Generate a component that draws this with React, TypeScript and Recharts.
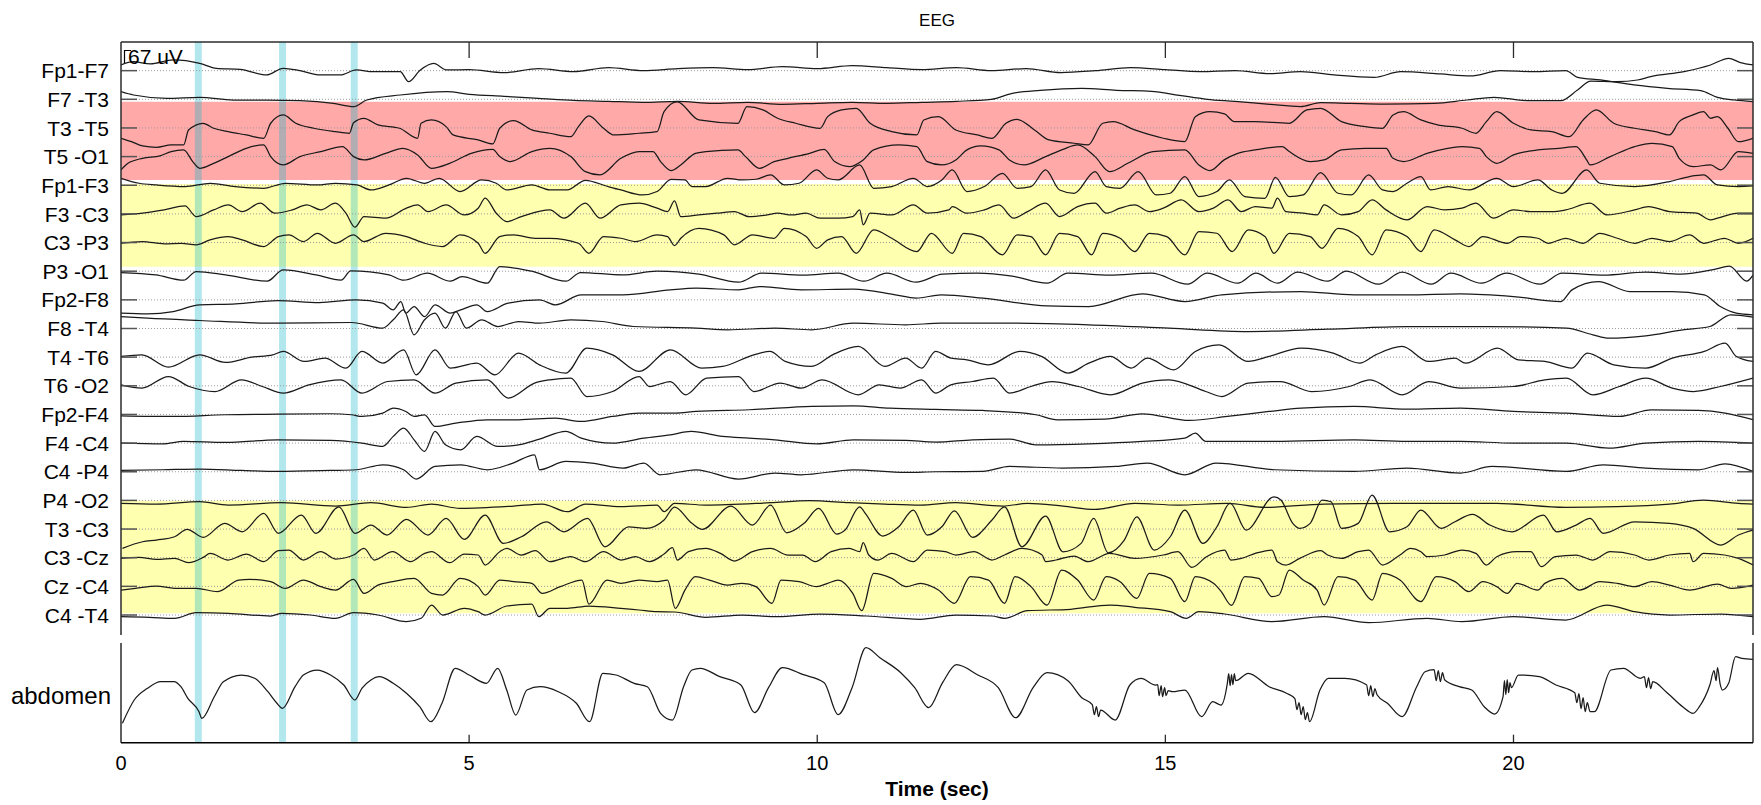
import React from 'react';
import { ComposedChart, Line, XAxis, YAxis, ReferenceArea, ReferenceLine } from 'recharts';

type Pt = [number, number];

// Bipolar montage, top to bottom
const CHANNELS = [
  'Fp1-F7', 'F7 -T3', 'T3 -T5', 'T5 -O1', 'Fp1-F3', 'F3 -C3', 'C3 -P3', 'P3 -O1',
  'Fp2-F8', 'F8 -T4', 'T4 -T6', 'T6 -O2', 'Fp2-F4', 'F4 -C4', 'C4 -P4', 'P4 -O2',
  'T3 -C3', 'C3 -Cz', 'Cz -C4', 'C4 -T4',
];

const TIME_TICKS = [0, 5, 10, 15, 20];
const MARKERS = [1.11, 2.32, 3.35]; // event markers (s)
const T_END = 23.44;
// deflection units per channel step; one step = 67 uV
const GAP = 28.65;

// [time (s), deflection (+ = up)]
const FP1_F7: Pt[] = [[0,5.7],[0.18,9],[0.42,6.7],[0.75,10.7],[1.13,7.3],[1.37,2.3],[1.71,1.3],[2.09,-4.3],[2.33,2.3],[2.57,0],[2.86,-4.3],[3.15,-4.3],[3.38,0.7],[3.62,-1],[4.01,-1],[4.13,-11],[4.3,0.7],[4.49,7.3],[4.68,0.7],[5,1],[5.5,-2],[6,2],[6.5,-1],[7,3],[7.5,0],[8,2],[8.5,3],[9,1],[9.5,4],[10,2],[10.5,5],[11,3],[11.5,1],[12,3],[12.5,0],[13,2],[13.5,-2],[14,0],[14.5,3],[15,1],[15.5,-1],[16,0],[16.5,-3],[16.94,-1],[17.42,-4.3],[18,-6.7],[18.38,-1],[18.95,-3.3],[19.38,-5.3],[19.81,0],[20.29,-1],[20.75,0],[20.92,-6.7],[21.25,-9.3],[21.73,-14.3],[22.21,-17.7],[22.69,-20],[22.93,-26.7],[23.17,-29.3],[23.44,-31]];
const F7_T3: Pt[] = [[0,7.7],[0.18,4.3],[0.66,1],[1.13,2],[1.61,-0.7],[2.09,-0.7],[2.57,-1.3],[3.05,-4],[3.34,-7.3],[3.53,-0.7],[4.01,4.3],[4.68,7.7],[5,5],[5.5,3],[6,1],[6.5,-1],[7,-2],[7.5,-3],[8,-2],[8.5,-4],[9,-3],[9.5,-5],[10,-4],[10.5,-3],[11,-4],[11.5,-3],[12,-2],[12.5,0],[12.8,6],[13.2,9],[13.8,11],[14.3,9],[14.8,8],[15.2,4],[15.6,0],[16,-2],[16.5,-5],[16.94,-7.3],[17.23,-3.3],[17.66,-4],[18.14,-4.7],[18.86,-4],[19.33,-0.7],[19.72,2],[20.2,-1.3],[20.68,-1.3],[20.92,9.3],[21.11,18.3],[21.49,17.7],[21.78,19.3],[21.97,22.7],[22.45,27.7],[22.83,34.3],[23.09,41],[23.26,36.7],[23.44,34.3]];
const T3_T5: Pt[] = [[0,-10.3],[0.15,-13.7],[0.31,-18],[0.51,-19.3],[0.72,-17],[0.9,-17],[0.97,-2],[1.18,4.7],[1.33,-0.3],[1.54,-3.7],[1.8,-7],[2.05,-10.3],[2.15,4.7],[2.33,13],[2.51,4.7],[2.77,-0.3],[3.08,-3.7],[3.28,-5.3],[3.34,5.3],[3.49,9.7],[3.69,3],[4,-0.3],[4.26,-10.3],[4.31,4.7],[4.46,8],[4.67,1.3],[4.77,-7],[5.13,-12],[5.34,-16],[5.44,-0.3],[5.64,7.3],[5.9,-2],[6.16,-5.3],[6.46,-8.7],[6.57,1.3],[6.72,12],[6.93,-0.3],[7.08,-7],[7.44,-5.3],[7.7,-3.7],[7.8,16.3],[7.99,26],[8.3,8],[8.86,4.7],[8.99,21.3],[9.22,18],[9.43,9.7],[9.69,4.7],[10.04,-0.3],[10.15,11.3],[10.35,18],[10.56,19.7],[10.76,4.7],[11.07,-3.7],[11.43,-7],[11.53,8],[11.74,11.3],[11.99,-2],[12.3,-7],[12.51,-10.3],[12.71,4.7],[12.87,8.7],[13.12,-2],[13.33,-12],[13.69,-15.3],[13.89,-17],[14.1,4.7],[14.25,6.3],[14.56,-2],[14.97,-10.3],[15.28,-13.7],[15.43,11.3],[15.64,16.3],[15.85,14],[15.99,6.3],[16.29,6.3],[16.78,4.7],[17.03,18],[17.23,19.7],[17.53,6.3],[17.87,1.3],[18.12,-0.3],[18.27,13],[18.42,16.3],[18.67,8],[18.91,3],[19.26,-0.3],[19.46,-5.3],[19.61,6.3],[19.76,16.3],[20,4.7],[20.25,-2],[20.55,-3.7],[20.8,-8.7],[21,8],[21.19,18],[21.44,4.7],[21.74,-0.3],[22.04,-3.7],[22.24,-7],[22.38,6.3],[22.58,13],[22.73,16.3],[22.83,9.7],[22.93,11.3],[23.08,-0.3],[23.23,-13.7],[23.44,-10.3]];
const T5_O1: Pt[] = [[0,-13.3],[0.1,-6.7],[0.31,-1.7],[0.56,0.7],[0.72,5],[0.9,6.7],[1.03,-5],[1.13,-11.7],[1.33,-6.7],[1.54,0],[1.8,8.3],[2.05,11.7],[2.15,0],[2.33,-8.3],[2.57,0],[2.87,5],[3.18,10],[3.34,0],[3.49,-3.3],[3.8,3.3],[4.05,8.3],[4.26,1.7],[4.46,-11.7],[4.72,-6.7],[5.03,3.3],[5.34,7.3],[5.44,0],[5.59,-5],[5.9,5],[6.16,8.3],[6.46,0],[6.67,-15],[6.88,-18.3],[7.18,-1.7],[7.44,5],[7.64,5],[7.75,-5],[7.9,-14],[8.04,-8.3],[8.25,3.3],[8.4,5],[8.86,6.7],[8.97,0],[9.17,-11.7],[9.38,-5],[9.58,-1.7],[9.89,3.3],[10.1,7.3],[10.25,-5],[10.46,-10],[10.66,-3.3],[10.81,6.7],[11.17,11.7],[11.43,10],[11.58,-5],[11.79,-8.3],[11.99,-3.3],[12.15,6.7],[12.35,10.7],[12.61,6.7],[12.76,-3.3],[12.97,-8.3],[13.28,0],[13.53,7.3],[13.74,11.7],[13.99,0],[14.2,-15],[14.46,-6.7],[14.82,5],[15.28,6.7],[15.48,-8.3],[15.64,-14],[15.85,-3],[16.04,3.3],[16.29,6.7],[16.68,10],[16.78,5],[17.08,-5],[17.28,-3.3],[17.53,6.7],[17.87,8.3],[18.17,8.3],[18.27,-1.7],[18.42,-5],[18.76,3.3],[19.26,10],[19.51,8.3],[19.61,0],[19.76,-6.7],[20,1.7],[20.35,6.7],[20.65,8.3],[20.9,10],[21.05,-3.3],[21.1,-8.3],[21.39,0],[21.74,10],[21.99,13.3],[22.28,10],[22.38,-1.7],[22.58,-10],[22.83,-8.3],[22.98,-13.3],[23.23,5],[23.44,3.3]];
const FP1_F3: Pt[] = [[0,7],[0.26,2],[0.51,0.3],[0.92,-1.3],[1.28,2],[1.64,-1.3],[2.05,-3],[2.36,2],[2.82,0.3],[3.08,2],[3.39,0.3],[3.59,-4.7],[3.85,0.3],[4.1,7],[4.36,2],[4.57,7],[4.87,-6.3],[5.18,5.3],[5.39,2],[5.54,-4.7],[5.9,0.3],[6.16,-4.7],[6.41,-4.7],[6.67,5],[6.98,-1],[7.18,-4.7],[7.49,-9.7],[7.7,-6.3],[7.9,6],[8.1,5.3],[8.2,-1.3],[8.4,-1.3],[8.71,7],[8.92,5.3],[9.12,6],[9.33,10.3],[9.53,0.3],[9.74,2],[9.99,15.3],[10.15,7],[10.3,5.3],[10.61,20.3],[10.81,-3],[11.07,-1.3],[11.38,7],[11.58,-1.3],[11.79,5.3],[11.94,15.3],[12.15,-6.3],[12.4,-1.3],[12.66,12],[12.87,-3],[13.07,-1.3],[13.28,15.3],[13.48,-4.7],[13.69,-8],[13.99,13.7],[14.15,-1.3],[14.35,-3],[14.61,13.7],[14.87,-9.7],[15.07,-8],[15.28,8.7],[15.48,-11.3],[15.74,-6.3],[15.92,5.3],[16.14,-11.3],[16.43,-13],[16.58,8],[16.78,-11.3],[16.98,-9.7],[17.23,12.7],[17.48,-8],[17.67,-9.7],[17.92,10.3],[18.12,-4.7],[18.27,-6.3],[18.47,2],[18.67,8.7],[18.81,-4.7],[19.06,-1.3],[19.36,-4.7],[19.76,7],[20,-1.3],[20.35,5.3],[20.55,-4.7],[20.7,-8],[21.05,15.3],[21.24,2],[21.74,-1.3],[22.24,3.7],[22.53,8.7],[22.73,10.3],[22.93,0.3],[23.23,-1.3],[23.44,-0.7]];
const F3_C3: Pt[] = [[0,-1],[0.31,0.7],[0.62,4],[0.92,8],[1.08,-2.7],[1.33,4],[1.54,9],[1.74,2.3],[2,10.7],[2.21,0.7],[2.46,4],[2.67,9],[2.87,4],[3.08,10.7],[3.23,0.7],[3.36,-13.3],[3.49,-2.7],[3.8,-4.3],[4.1,5.7],[4.26,9],[4.41,2.3],[4.67,9],[4.93,-1],[5.13,5.7],[5.23,15.7],[5.39,0.7],[5.54,-7.7],[5.75,-2.7],[6.16,4],[6.36,-4.3],[6.67,10.7],[6.88,-4.3],[7.18,9],[7.44,10.7],[7.7,5.7],[7.85,2.3],[7.95,13],[8.04,-2.7],[8.3,-1],[8.56,0.7],[8.81,2.3],[9.02,-2.7],[9.28,-1],[9.43,0.7],[9.63,-1],[9.84,0.7],[10.04,-4.3],[10.3,-4.3],[10.51,-2.7],[10.61,4],[10.66,-11],[10.76,0.7],[11.07,-1],[11.38,9],[11.58,0.7],[11.89,4],[11.94,7.3],[12.15,0.7],[12.4,4],[12.61,9],[12.82,-4.3],[13.02,2.3],[13.28,10.7],[13.48,-2.7],[13.74,7.3],[13.99,10.7],[14.15,0.7],[14.35,5.7],[14.56,9],[14.77,2.3],[14.97,5.7],[15.23,14],[15.48,2.3],[15.69,5.7],[15.9,14],[16.09,2.3],[16.29,7.3],[16.53,5.7],[16.61,15.7],[16.73,2.3],[16.98,0.7],[17.18,-1],[17.28,9],[17.53,-1],[17.77,2.3],[17.97,14],[18.17,4],[18.47,-6],[18.76,7.3],[19.01,4],[19.26,5.7],[19.46,10.7],[19.71,-4.3],[20,4],[20.25,2.3],[20.55,2.3],[20.75,4],[21.1,10.7],[21.34,-1],[21.74,4],[21.94,7.3],[22.24,2.3],[22.63,0.7],[22.83,-6],[22.93,-4.3],[23.23,0.7],[23.44,0.7]];
const C3_P3: Pt[] = [[0,-0.7],[0.31,1],[0.62,-1.3],[0.87,-0.7],[1.08,-2.3],[1.28,2.7],[1.54,6],[1.74,2.7],[2.05,-4],[2.26,6],[2.41,7.7],[2.62,1],[2.82,9.3],[3.08,-0.7],[3.34,7.7],[3.49,1],[3.8,9.3],[4.1,6],[4.36,-0.7],[4.62,-4],[4.87,7.7],[5.13,-0.7],[5.23,-10.7],[5.44,6],[5.64,7.7],[5.95,4.3],[6.16,4.3],[6.57,-0.7],[6.72,-10.7],[6.93,6],[7.18,4.3],[7.39,1],[7.7,7.7],[7.85,6],[7.95,-3],[8.04,4.3],[8.3,14.3],[8.66,7.7],[8.81,-2.3],[9.07,7.7],[9.38,4.3],[9.53,14.3],[9.84,6],[9.99,-5.7],[10.15,2.7],[10.35,6],[10.56,-10.7],[10.81,12.7],[11.07,4.3],[11.43,-9],[11.64,9.3],[11.94,-10.7],[12.1,9.3],[12.35,6],[12.66,-12.3],[12.87,7.7],[13.07,6],[13.28,-12.3],[13.48,9.3],[13.74,6],[13.94,-12.3],[14.1,9.3],[14.35,4.3],[14.56,-9],[14.77,9.3],[15.02,6],[15.28,-12.3],[15.48,11],[15.74,9.3],[15.96,-9],[16.19,12.7],[16.43,6],[16.56,-10.7],[16.78,9.3],[17.08,6],[17.25,-5.7],[17.48,14.3],[17.77,6],[17.97,-12.3],[18.17,12.7],[18.47,6],[18.67,-9],[18.86,12.7],[19.16,2.7],[19.36,-4],[19.56,6],[19.91,-0.7],[20.1,6],[20.35,4.3],[20.5,-0.7],[20.75,4.3],[21,-0.7],[21.24,9.3],[21.49,4.3],[21.74,-0.7],[21.99,4.3],[22.24,1],[22.53,7.7],[22.73,-0.7],[23.03,4.3],[23.23,-0.7],[23.44,4.3]];
const P3_O1: Pt[] = [[0,-1.3],[0.5,-3.7],[0.9,-9],[1.08,-0.3],[1.5,-3.7],[2.1,-10],[2.33,1.3],[2.8,-3.7],[3.16,-9],[3.3,0.3],[3.85,-3.7],[4.06,-9],[4.4,-2],[4.73,-10],[4.9,-5.3],[5.26,-12],[5.44,4.7],[5.9,0],[6.39,-10],[6.6,-1.3],[7.2,-3.7],[7.7,0],[8.3,-3],[8.87,-11],[9.2,-2],[9.8,-4],[10.3,-2],[10.67,-10],[11,-2],[11.42,-11],[11.8,-3],[12.3,-2],[12.8,-5],[13.3,-12],[13.6,-2],[14.2,-4],[14.8,-2],[15.32,-13],[15.6,-2],[16.04,-12],[16.3,-2],[16.61,-12],[16.9,-1],[17.33,-10],[17.6,0],[18.06,-13],[18.4,-1],[18.82,-13],[19.1,-2],[19.54,-12],[19.9,-2],[20.38,-13],[20.7,-2],[21.3,-4],[21.9,-1],[22.4,-3],[22.9,2],[23.1,5],[23.35,-10],[23.44,-4]];
const FP2_F8: Pt[] = [[0,-13.3],[0.38,-14],[0.75,-11.7],[1.13,-5],[1.65,-4],[2.25,-0.7],[2.85,-2.7],[3.38,0],[3.76,-3.3],[3.91,-10],[4.02,-1.7],[4.09,-13.3],[4.21,-6.7],[4.36,-16.7],[4.51,-5],[4.73,-13.3],[4.88,-10],[5.11,-5],[5.26,-11.7],[5.56,-3.3],[6.01,0],[6.24,-5],[6.61,5],[7.21,5],[7.89,10],[8.26,11.7],[8.87,10],[9.17,13.3],[9.77,10],[10.52,10.7],[11.12,5],[11.42,1.7],[11.78,5],[12.38,1.7],[13.3,-6],[13.9,-6.7],[14.67,6],[15.28,-1.7],[15.81,5],[16.95,8.3],[17.71,5],[18.47,5],[19.24,6],[20,3.3],[20.68,-1.7],[20.84,10],[21.22,18.3],[21.67,8.3],[22.28,8.3],[22.74,5],[22.97,-6.7],[23.2,-13.3],[23.44,-15]];
const F8_T4: Pt[] = [[0,12],[0.38,10.3],[1.13,8],[2.25,5.3],[3.31,6],[3.76,0.3],[3.91,8.7],[4.06,18.7],[4.21,-6.3],[4.36,8.7],[4.51,15.3],[4.66,0.3],[4.81,17],[4.96,0.3],[5.18,8.7],[5.41,2],[5.71,7],[6.01,5.3],[6.46,8.7],[6.91,7],[7.36,2],[8.26,0.3],[8.72,-1.3],[9.39,0.3],[9.92,-1.3],[10.52,5.3],[11.27,3.7],[11.78,5.3],[12.76,5.3],[13.9,3.7],[15.05,0.3],[16.19,-3],[17.33,-0.7],[18.47,2],[19.62,2],[20.76,0.3],[21.14,-6.3],[21.37,-9.7],[21.9,-7.3],[22.43,-1.3],[22.82,2],[23.12,13.7],[23.44,11.3]];
const T4_T6: Pt[] = [[0,0.7],[0.3,2.3],[0.68,-10],[1.13,2.3],[1.5,-5.3],[1.88,0],[2.18,2.3],[2.33,5.7],[2.63,-4.3],[2.93,-1],[3.23,-11],[3.46,5.7],[3.76,-6],[4.06,7.3],[4.24,-17.7],[4.51,7.3],[4.73,-11],[5.11,-6],[5.37,-17.7],[5.71,4],[6.01,-7.7],[6.39,-16],[6.69,9],[7.06,2.3],[7.44,-14.3],[7.89,7.3],[8.34,-11],[8.64,-9.3],[9.09,2.3],[9.32,5.7],[9.54,-4.3],[9.92,-9.3],[10.22,2.3],[10.59,10.7],[10.97,-9.3],[11.27,-1],[11.5,-11],[11.7,5.7],[11.92,-1],[12.15,-2.7],[12.46,-7.7],[12.91,5.7],[13.22,0.7],[13.6,-16],[13.9,-6],[14.21,0.7],[14.51,-11],[14.74,-1],[15.12,-12.7],[15.43,5.7],[15.77,12.3],[16.19,-4.3],[16.49,0.7],[16.95,9],[17.41,4],[17.79,-6],[18.02,2.3],[18.4,10.7],[18.78,-4.3],[19.16,-1],[19.31,-6],[19.77,9],[20.07,-2.7],[20.45,-4.3],[20.84,-11],[21.06,4],[21.44,-7.7],[21.9,-11],[22.28,-1],[22.74,5.7],[23.04,14],[23.2,0.7],[23.44,-4.3]];
const T6_O2: Pt[] = [[0,1],[0.3,-2.3],[0.68,9.3],[0.98,-0.7],[1.35,-5.7],[1.73,6],[2.03,-0.7],[2.33,-7.3],[2.7,1],[3.16,6],[3.46,-7.3],[3.83,4.3],[4.21,6],[4.51,-7.3],[4.81,2.7],[5.26,6],[5.56,-12.3],[5.94,2.7],[6.16,6],[6.46,7.7],[6.69,-10.7],[7.06,-5.7],[7.44,9.3],[7.59,-0.7],[7.89,4.3],[8.11,-9],[8.41,7.7],[8.87,9.3],[9.09,-5.7],[9.47,2.7],[9.77,-2.3],[10.07,6],[10.59,-9],[10.89,1],[11.19,-2.3],[11.5,6],[11.7,-7.3],[11.92,1],[12.23,4.3],[12.53,7.7],[12.76,-7.3],[13.07,-0.7],[13.37,4.3],[13.75,-0.7],[14.21,-9],[14.67,2.7],[15.05,6],[15.58,-5.7],[15.81,-10.7],[16.19,2.7],[16.65,4.3],[17.1,-5.7],[17.64,-0.7],[17.94,6],[18.4,-9],[18.78,4.3],[19.24,-2.3],[20,-0.7],[20.45,6],[20.76,7.7],[21.14,-9],[21.52,-0.7],[21.9,7.7],[22.28,-2.3],[22.59,-5.7],[22.97,-0.7],[23.44,7.7]];
const FP2_F4: Pt[] = [[0,-1.3],[0.75,-2],[1.5,-0.3],[2.25,0.3],[3.01,0.7],[3.31,-0.3],[3.46,-2],[3.76,1.3],[3.91,6.3],[4.09,3],[4.21,-2],[4.36,-0.3],[4.51,-12],[4.81,-8.7],[5.26,-5.3],[5.71,-5.3],[6.24,-3.7],[6.61,-7],[7.06,-2],[7.44,1.3],[7.96,1.3],[8.26,3],[9.02,4.7],[9.92,8],[10.52,8.7],[11.04,6.3],[11.7,5],[12.38,4],[13.14,-0.3],[13.45,-5.3],[14.13,-4.7],[14.67,0.7],[15.35,-6],[15.89,-2],[16.49,3],[16.95,6.3],[17.71,8],[18.47,5.3],[19.24,6.3],[20,3],[20.76,1.3],[21.52,-2],[21.98,4.7],[22.66,4],[23.04,1.3],[23.44,-5.3]];
const F4_C4: Pt[] = [[0,0],[0.6,-0.7],[0.9,1.7],[1.5,0.7],[2.25,3.3],[3.01,2.7],[3.46,0],[3.76,-3.3],[3.91,6.7],[4.06,15],[4.21,3.3],[4.36,-8.3],[4.51,11.7],[4.66,-1.7],[4.88,-6.7],[5.11,6.7],[5.41,-3.3],[5.71,-1.7],[6.01,4],[6.39,11.7],[6.61,5],[7.06,0],[7.51,5],[7.89,8.3],[8.19,11.7],[8.64,6.7],[9.02,5],[9.39,3.3],[9.99,-0.7],[10.52,3.3],[11.27,2.7],[11.7,1],[12.23,3.3],[12.76,4],[13.14,-1.7],[13.9,-0.7],[14.67,1.7],[15.28,5],[15.43,10],[15.58,1.7],[16.57,1.7],[17.71,3.3],[18.47,1.7],[19.24,1.7],[20,0],[20.76,0],[21.37,-5],[21.9,0],[22.66,1.7],[23.44,0]];
const C4_P4: Pt[] = [[0,1.3],[0.6,2],[1.13,2.7],[1.73,1.3],[2.25,0.3],[3.01,1.3],[3.38,2],[3.76,7],[4.06,2],[4.24,-7.3],[4.51,5.3],[4.88,7],[5.26,2],[5.63,8.7],[5.94,17],[6.01,2],[6.39,10.3],[6.76,8.7],[7.21,3.7],[7.51,8.7],[7.74,-3],[8.26,2],[8.87,-7.3],[9.39,-1.3],[9.77,-3],[10.52,2],[11.27,-0.7],[11.7,0],[12.38,0.3],[12.76,5.3],[13.52,3.7],[14.29,5.3],[14.74,8.7],[15.28,-3],[15.73,8.7],[16.57,2],[17.71,0.3],[18.47,3.7],[19.24,-1.3],[19.69,5.3],[20.76,0.3],[21.29,7],[21.9,3.7],[22.66,2],[23.04,8],[23.44,0.3]];
const P4_O2: Pt[] = [[0,-3],[0.51,-3.7],[1.13,-1.3],[1.54,-4.7],[2.31,-2.3],[3.08,-5.7],[3.59,-2.3],[4.1,-7],[4.46,-3.7],[4.87,-8],[5.64,-5.7],[6.05,-3.7],[6.41,-11.3],[6.67,-3.7],[7.18,-6.3],[7.7,-4.7],[7.8,-11.3],[7.95,-3],[8.4,-4.7],[9.33,-2.3],[9.89,-0.3],[10.46,-2.3],[10.97,-3.7],[11.48,-4.7],[11.99,-2.3],[12.66,-5.7],[13.02,-3],[13.53,-5.7],[13.99,-9],[14.56,-3],[15.18,-4.7],[15.89,-3],[16.43,-7],[17.28,-3.7],[18.27,-3],[19.76,-3],[20.75,-7],[21.49,-6.3],[22.24,-3.7],[22.73,0.3],[23.23,-3],[23.44,-3.7]];
const T3_C3: Pt[] = [[0.02,-19.3],[0.31,-12.7],[0.51,-11],[0.77,-7.7],[0.95,-0.3],[1.18,-8.3],[1.49,5.7],[1.74,-2.7],[2.05,15.7],[2.26,-4.3],[2.59,14],[2.8,-4.3],[3.13,22.3],[3.36,-4.3],[3.59,4],[3.82,-6],[4.1,9.7],[4.41,-6],[4.67,10.7],[4.93,-10.3],[5.23,14],[5.49,-14.3],[5.75,-7.7],[6.11,7.3],[6.36,-2.7],[6.7,10.7],[6.95,-17.7],[7.29,2.3],[7.54,0.7],[7.8,9],[7.95,22],[8.2,5.7],[8.35,-0.3],[8.76,23],[9.07,4],[9.33,24],[9.56,-3.7],[9.81,5.7],[10.02,20.7],[10.28,-5],[10.4,-1],[10.61,22.3],[10.69,15.7],[10.94,-7],[11.17,2.3],[11.38,19],[11.58,-6],[11.79,2.3],[11.97,18.3],[12.23,-8.3],[12.51,9],[12.69,22.3],[12.94,-17.7],[13.28,13],[13.53,-22.7],[13.79,-14.3],[13.97,10.7],[14.18,-23.7],[14.41,-11],[14.59,12.3],[14.84,-21],[15.07,-7.7],[15.28,19],[15.54,-14.3],[15.74,2.3],[15.93,26],[16.16,-1],[16.56,32.3],[16.66,29],[16.83,5.7],[16.93,0.7],[17.08,5.7],[17.25,29],[17.38,27.3],[17.53,0.7],[17.77,5.7],[17.97,34],[18.22,-2.7],[18.47,2.3],[18.67,19],[18.96,0.7],[19.16,7.3],[19.41,14.7],[19.66,4],[19.98,-2.7],[20.43,14],[20.62,-2.7],[20.9,4],[21.1,10.7],[21.29,-4.3],[21.74,7.3],[22.24,5.7],[22.58,0.7],[22.98,-16],[23.23,-6],[23.44,-1]];
const C3_CZ: Pt[] = [[0,-0.7],[0.26,0.3],[0.51,-1.7],[0.77,-0.7],[0.97,-5],[1.18,0.3],[1.28,4.3],[1.54,-2.3],[1.8,3.7],[2.05,-4],[2.26,7],[2.41,7.7],[2.62,-2.3],[2.87,6],[3.08,-1.3],[3.34,2.7],[3.49,9.3],[3.64,-2.3],[3.9,6],[4.16,-4],[4.36,4.3],[4.46,6],[4.72,-5],[4.93,3.7],[5.13,2.7],[5.23,-7.3],[5.44,6],[5.54,9.3],[5.75,2.7],[5.95,7],[6.16,-4],[6.46,1],[6.67,-4],[6.93,6],[7.18,-2.3],[7.39,1],[7.59,-4],[7.8,3.7],[7.92,10],[7.99,-2.3],[8.15,6],[8.4,9.3],[8.61,4.3],[8.81,-3.3],[9.07,6],[9.33,9.3],[9.58,2.7],[9.79,2.7],[9.97,-4],[10.2,6],[10.46,9.3],[10.61,6],[10.66,15],[10.74,2.7],[10.87,-2.3],[11.07,4.3],[11.38,-4],[11.58,7.7],[11.84,6],[11.99,2.7],[12.25,6],[12.51,-2.3],[12.69,2.7],[12.94,9.3],[13.23,2.7],[13.28,-4],[13.43,-2.3],[13.69,1.7],[13.89,-4],[14.2,4.3],[14.56,-0.7],[14.97,2.7],[15.18,6],[15.38,-9.7],[15.59,1],[15.85,7.5],[15.94,-2.3],[16.09,-0.7],[16.29,4.3],[16.53,7.7],[16.61,-4],[16.73,-7.3],[16.93,-0.7],[17.23,7],[17.33,2.7],[17.53,-0.7],[17.77,6],[17.92,7.7],[18.12,-7.3],[18.37,2.7],[18.52,9.3],[18.67,6],[18.76,1],[19.01,2.7],[19.26,7.7],[19.46,4.3],[19.61,-7.3],[19.76,1],[20.05,6],[20.25,6],[20.4,-9],[20.6,1],[20.9,2.7],[21.14,-2.3],[21.39,6],[21.74,2.7],[21.94,-2.3],[22.24,2.7],[22.53,4.3],[22.58,-4],[22.73,4.3],[23.03,2.7],[23.23,-0.7],[23.44,-7.3]];
const CZ_C4: Pt[] = [[0,-3.7],[0.21,-2],[0.51,0.3],[0.77,-2],[1.08,-2],[1.39,-5.3],[1.69,6.3],[1.85,7],[2.15,4.7],[2.36,-2],[2.62,6.3],[2.87,-0.3],[3.08,-3.7],[3.34,7],[3.49,-7],[3.69,1.3],[3.9,4.7],[4.21,8],[4.46,-7],[4.62,-8.7],[4.87,8],[5.13,-0.3],[5.23,-8.7],[5.44,6.3],[5.64,4.7],[5.9,3],[6.05,-7],[6.31,-0.3],[6.62,6.3],[6.72,-17.7],[6.98,6.3],[7.18,3],[7.44,6.3],[7.7,4.7],[7.85,6.3],[7.96,-22],[8.1,-3.7],[8.25,9.7],[8.45,6.3],[8.71,1.3],[8.92,3],[9.12,-0.3],[9.35,-17],[9.48,6.3],[9.74,4.7],[9.99,-0.3],[10.15,3],[10.3,6.3],[10.51,-7],[10.64,-24.3],[10.81,13],[11.07,8],[11.28,-0.3],[11.48,3],[11.74,-3.7],[11.97,-17],[12.2,9.7],[12.46,6.3],[12.69,-17],[12.84,9.7],[13.07,-0.3],[13.3,-18.7],[13.51,16.3],[13.74,6.3],[13.97,-13.7],[14.15,9.7],[14.35,4.7],[14.59,-12],[14.77,13],[15.07,8],[15.28,-15.3],[15.43,9.7],[15.69,3],[15.8,-5],[15.95,-19],[16.14,9.7],[16.34,8],[16.53,-10.3],[16.63,-8.7],[16.78,16.3],[16.98,6.3],[17.18,-3.7],[17.28,-18.7],[17.48,9.7],[17.72,6.3],[17.97,-13.7],[18.12,13],[18.37,6.3],[18.67,-15.3],[18.89,9.7],[19.16,4.7],[19.36,-5.3],[19.56,4.7],[19.76,-0.3],[19.91,-7],[20.05,3],[20.35,-3.7],[20.45,3],[20.7,8],[20.95,-3.7],[21.24,4.7],[21.49,3],[21.74,-0.3],[21.99,4.7],[22.24,1.3],[22.53,-3.7],[22.93,2.3],[23.13,-2],[23.44,1.3]];
const C4_T4: Pt[] = [[0,-1.7],[0.41,-2.3],[0.77,-3.3],[1.08,2.3],[1.54,1.7],[2.15,-1],[2.31,1.7],[2.72,0],[3.08,-3.3],[3.34,2.3],[3.69,0],[4.1,-6.7],[4.31,-3.3],[4.46,10],[4.62,0],[4.93,6.7],[5.13,3.3],[5.23,0],[5.54,9],[5.9,11],[6,-1.7],[6.16,6.7],[6.41,6.7],[6.72,9],[7.18,6.7],[7.44,5],[7.7,3.3],[7.95,3],[8.4,-2.3],[8.92,0],[9.43,-1.7],[10.04,1],[10.71,-1],[11.48,-4.3],[11.99,0],[12.51,-1],[12.69,-3.3],[13.02,4.3],[13.64,5.7],[14.2,10],[14.56,7.7],[15.07,3.3],[15.3,-3.3],[15.48,3.3],[15.85,1],[16.53,-6.7],[17.28,-1.7],[17.92,-7.7],[18.76,-3.3],[19.26,-6.7],[20,-1.7],[20.75,-5],[21.34,10],[21.74,3.3],[22.24,0],[22.98,1],[23.44,-1.7]];

// respiratory effort, height above the panel floor (dense runs are movement artefact)
const ABDOMEN: Pt[] = [[0.02,19.4],[0.19,42.7],[0.38,54.4],[0.57,61],[0.76,61],[0.86,56],[0.96,44.4],[1.12,31],[1.16,24.4],[1.34,46],[1.47,61],[1.73,67.7],[1.92,64.4],[2.11,51],[2.24,39.4],[2.32,34.4],[2.5,56],[2.62,67.7],[2.82,72.7],[3.01,67.7],[3.2,57.7],[3.36,42.7],[3.46,54.4],[3.59,62.7],[3.71,66],[3.91,59.4],[4.1,49.4],[4.29,36],[4.45,21],[4.61,39.4],[4.8,74.4],[5,67.7],[5.25,59.4],[5.41,74.4],[5.54,52.7],[5.67,27.7],[5.83,52.7],[6.02,56],[6.28,51],[6.54,39.4],[6.73,21],[6.92,69.4],[7.11,67.7],[7.37,59.4],[7.56,56],[7.75,29.4],[7.92,22.7],[8.08,56],[8.2,72.7],[8.32,74.4],[8.6,66],[8.9,58],[9.1,30],[9.3,55],[9.5,75],[9.8,68],[10.1,60],[10.3,28],[10.5,55],[10.7,95],[10.9,85],[11.2,70],[11.4,55],[11.6,35],[11.8,60],[12,78],[12.3,68],[12.6,55],[12.85,25],[13.1,55],[13.3,70],[13.6,62],[13.8,45],[13.95,38],[13.98,28],[14.01,36],[14.04,26],[14.07,32.7],[14.28,22.7],[14.49,57.7],[14.65,64.4],[14.86,57.7],[14.89,58],[14.91,47],[14.94,57],[14.96,46],[14.99,55],[15.01,47],[15.04,52],[15.1,51],[15.28,52.7],[15.52,26],[15.68,41],[15.8,37.7],[15.89,59.4],[15.91,69],[15.93,57],[15.95,68],[15.97,58],[15.99,69],[16.01,62],[16.19,69.4],[16.49,56],[16.74,49.4],[16.86,44],[16.89,33],[16.92,40],[16.95,28],[16.98,36],[17.01,23],[17.04,30],[17.07,21],[17.22,52.7],[17.34,64.4],[17.58,64.4],[17.89,58],[17.92,47],[17.95,57],[17.98,46],[18.01,54],[18.04,48],[18.19,39.4],[18.4,26],[18.61,56],[18.73,71],[18.86,73],[18.89,62],[18.92,72],[18.95,61],[18.98,70],[19.01,63],[19.22,56],[19.4,52.7],[19.58,36],[19.73,28.7],[19.85,46],[19.87,62],[19.89,48],[19.91,63],[19.93,50],[19.95,60],[19.97,55],[20.07,67.7],[20.37,66],[20.61,57.7],[20.88,50],[20.91,40],[20.94,49],[20.97,34],[21,45],[21.03,31],[21.06,40],[21.1,31],[21.16,31],[21.4,72.7],[21.58,74.4],[21.82,64.4],[21.88,66],[21.91,55],[21.94,65],[21.97,54],[22,61],[22.19,51],[22.43,36],[22.58,29.4],[22.67,36],[22.82,57.7],[22.88,72],[22.91,62],[22.93,75],[22.97,58],[23,52.7],[23.09,59.4],[23.19,86],[23.28,84.4],[23.44,83.4]];

const TRACES: Pt[][] = [
  FP1_F7, F7_T3, T3_T5, T5_O1, FP1_F3, F3_C3, C3_P3, P3_O1,
  FP2_F8, F8_T4, T4_T6, T6_O2, FP2_F4, F4_C4, C4_P4, P4_O2,
  T3_C3, C3_CZ, CZ_C4, C4_T4,
];

// highlighted channel groups, in channel-index units
const BANDS = [
  { from: 1.084, to: 3.817, color: '#ffa9a9' },
  { from: 3.957, to: 6.844, color: '#ffffb0' },
  { from: 15.012, to: 18.94, color: '#ffffb0' },
];

// layout
const W = 1761;
const H = 805;
const PLOT_TOP = 42;
const PLOT_BOTTOM = 742.7;
const PLOT_LEFT = 121;
const PLOT_RIGHT = 1753;
const FIRST_BASE = 70.65;
const EEG_FLOOR = 635;
const ABD_TOP = 643;
const PLOT_H = PLOT_BOTTOM - PLOT_TOP;
const EEG_MIN = -(FIRST_BASE - PLOT_TOP) / GAP;
const EEG_MAX = (PLOT_BOTTOM - FIRST_BASE) / GAP;
const EEG_END = (EEG_FLOOR - FIRST_BASE) / GAP;
const ABD_END = PLOT_BOTTOM - ABD_TOP;
const SEC_PER_PX = T_END / (PLOT_RIGHT - PLOT_LEFT);
const TICK = 16;
const FONT = '"Liberation Sans", Arial, Helvetica, sans-serif';
const INK = '#1a1a1a';
const FRAME = '#2b2b2b';

const eegSeries = TRACES.map((pts, k) => pts.map(([t, d]) => ({ t, v: k - d / GAP })));
const abdSeries = ABDOMEN.map(([t, h]) => ({ t, v: h }));

const ChannelTick = (props: any) => (
  <text x={PLOT_LEFT - 12} y={props.y} dy={7.6} textAnchor="end" fontSize={21} fontFamily={FONT} fill="#000">
    {CHANNELS[props.payload.value]}
  </text>
);

const TimeTick = (props: any) => (
  <text x={props.x} y={PLOT_BOTTOM + 27} textAnchor="middle" fontSize={20} fontFamily={FONT} fill="#000">
    {props.payload.value}
  </text>
);

export default function App() {
  const tickS = TICK * SEC_PER_PX;
  return (
    <div style={{ position: 'absolute', left: 0, top: 0, width: W, height: H, background: '#fff', overflow: 'hidden' }}>
      <ComposedChart width={W} height={H} margin={{ top: PLOT_TOP, right: W - PLOT_RIGHT, bottom: H - PLOT_BOTTOM - 30, left: 0 }}>
        <XAxis
          xAxisId="t"
          dataKey="t"
          type="number"
          domain={[0, T_END]}
          allowDataOverflow
          ticks={TIME_TICKS}
          tick={<TimeTick />}
          tickLine={false}
          axisLine={{ stroke: '#000', strokeWidth: 1.6 }}
          height={30}
          interval={0}
        />
        <YAxis
          yAxisId="eeg"
          type="number"
          reversed
          domain={[EEG_MIN, EEG_MAX]}
          allowDataOverflow
          ticks={CHANNELS.map((_, i) => i)}
          interval={0}
          tick={<ChannelTick />}
          tickLine={false}
          axisLine={false}
          width={PLOT_LEFT}
        />
        <YAxis yAxisId="abd" type="number" domain={[0, PLOT_H]} allowDataOverflow hide />

        {BANDS.map((b, i) => (
          <ReferenceArea key={'band' + i} xAxisId="t" yAxisId="eeg" x1={0} x2={T_END} y1={b.from} y2={b.to}
            fill={b.color} fillOpacity={1} stroke="none" ifOverflow="hidden" />
        ))}

        {MARKERS.map((m, i) => (
          <ReferenceArea key={'mk' + i} xAxisId="t" yAxisId="eeg" x1={m - 0.05} x2={m + 0.05} y1={EEG_MIN} y2={EEG_MAX}
            fill="#10b8c8" fillOpacity={0.32} stroke="none" ifOverflow="hidden" />
        ))}

        {CHANNELS.map((_, k) => (
          <ReferenceLine key={'base' + k} xAxisId="t" yAxisId="eeg" y={k} stroke="#9c9c9c" strokeWidth={1}
            strokeDasharray="1 2" ifOverflow="hidden" />
        ))}

        {eegSeries.map((data, k) => (
          <Line key={'ch' + k} xAxisId="t" yAxisId="eeg" data={data} dataKey="v" type="monotone" dot={false}
            activeDot={false} stroke={INK} strokeWidth={1.25} isAnimationActive={false} />
        ))}
        <Line xAxisId="t" yAxisId="abd" data={abdSeries} dataKey="v" type="monotone" dot={false} activeDot={false}
          stroke={INK} strokeWidth={1.25} isAnimationActive={false} />

        {/* channel ticks on both sides */}
        {CHANNELS.map((_, k) => (
          <ReferenceLine key={'lt' + k} xAxisId="t" yAxisId="eeg" segment={[{ x: 0, y: k }, { x: tickS, y: k }]}
            stroke="#555" strokeWidth={1.5} ifOverflow="visible" />
        ))}
        {CHANNELS.map((_, k) => (
          <ReferenceLine key={'rt' + k} xAxisId="t" yAxisId="eeg" segment={[{ x: T_END - tickS, y: k }, { x: T_END, y: k }]}
            stroke="#555" strokeWidth={1.5} ifOverflow="visible" />
        ))}
        {TIME_TICKS.slice(1).map((s) => (
          <ReferenceLine key={'tt' + s} xAxisId="t" yAxisId="eeg" segment={[{ x: s, y: EEG_MIN }, { x: s, y: EEG_MIN + TICK / GAP }]}
            stroke={FRAME} strokeWidth={1.3} ifOverflow="visible" />
        ))}
        {TIME_TICKS.slice(1).map((s) => (
          <ReferenceLine key={'bt' + s} xAxisId="t" yAxisId="abd" segment={[{ x: s, y: 0 }, { x: s, y: 8 }]}
            stroke={FRAME} strokeWidth={1.3} ifOverflow="visible" />
        ))}

        {/* panel frames */}
        <ReferenceLine xAxisId="t" yAxisId="eeg" segment={[{ x: 0, y: EEG_MIN }, { x: T_END, y: EEG_MIN }]} stroke={FRAME} strokeWidth={1.5} ifOverflow="visible" />
        <ReferenceLine xAxisId="t" yAxisId="eeg" segment={[{ x: 0, y: EEG_MIN }, { x: 0, y: EEG_END }]} stroke={FRAME} strokeWidth={1.5} ifOverflow="visible" />
        <ReferenceLine xAxisId="t" yAxisId="eeg" segment={[{ x: T_END, y: EEG_MIN }, { x: T_END, y: EEG_END }]} stroke={FRAME} strokeWidth={1.5} ifOverflow="visible" />
        <ReferenceLine xAxisId="t" yAxisId="abd" segment={[{ x: 0, y: 0 }, { x: 0, y: ABD_END }]} stroke={FRAME} strokeWidth={1.5} ifOverflow="visible" />
        <ReferenceLine xAxisId="t" yAxisId="abd" segment={[{ x: T_END, y: 0 }, { x: T_END, y: ABD_END }]} stroke={FRAME} strokeWidth={1.5} ifOverflow="visible" />
      </ComposedChart>

      <svg width={W} height={H} style={{ position: 'absolute', left: 0, top: 0, pointerEvents: 'none' }}>
        <text x={(PLOT_LEFT + PLOT_RIGHT) / 2} y={26} textAnchor="middle" fontSize={17} fontFamily={FONT} fill="#000">EEG</text>
        <path d="M 131 50.5 L 124.5 50.5 L 124.5 63" stroke="#000" strokeWidth={1.2} fill="none" />
        <text x={128} y={64} fontSize={21} fontFamily={FONT} fill="#000">67 uV</text>
        <text x={111} y={704} textAnchor="end" fontSize={24} fontFamily={FONT} fill="#000">abdomen</text>
        <text x={(PLOT_LEFT + PLOT_RIGHT) / 2} y={796} textAnchor="middle" fontSize={21} fontWeight="bold" fontFamily={FONT} fill="#000">Time (sec)</text>
      </svg>
    </div>
  );
}
